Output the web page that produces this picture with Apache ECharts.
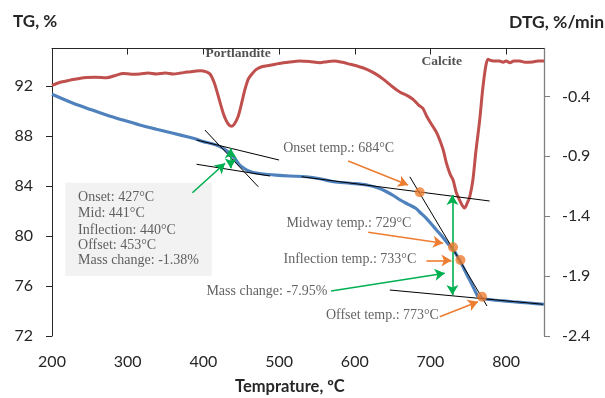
<!DOCTYPE html>
<html>
<head>
<meta charset="utf-8">
<script src="https://cdn.jsdelivr.net/npm/echarts@6.0.0/dist/echarts.min.js"></script>
<style>html,body{margin:0;padding:0;background:#fff}#c{width:605px;height:398px}</style>
</head>
<body>
<div id="c"></div>
<script>
// ---- data ----
const xTicks = [200, 300, 400, 500, 600, 700, 800];
const tgTicks = [72, 76, 80, 84, 88, 92];
const dtgTicks = [-2.4, -1.9, -1.4, -0.9, -0.4];

const tgTemp = [200,228,252,272,294,316,338,360,380,391,400,409,418,426,432,438,443,448,454,459,466,479,496,514,536,554,572,594,616,633,642,652,660,670,681,686,694,702,708,715,721,727,732,738,743,749,754,759,763,768,774,790,809,830,850];
const tgValues = [91.34,90.62,90.1,89.68,89.27,88.88,88.54,88.22,87.92,87.74,87.55,87.42,87.26,87.02,86.75,86.45,86.08,85.68,85.4,85.22,85.08,84.96,84.87,84.8,84.74,84.58,84.34,84.22,84.08,83.8,83.54,83.2,82.88,82.55,82.2,81.9,81.45,80.9,80.48,80.0,79.54,79.1,78.74,78.1,77.54,76.8,76.22,75.6,75.14,75.0,74.94,74.84,74.74,74.64,74.54];

const dtgTemp = [200,212,224,242,258,272,284,294,305,316,327,338,350,360,370,378,388,396,404,409,414,418,422,426,430,434,437.5,441,446,450,455,459,462,470,478,488,500,514,527,540,554,563,572,584,594,605,616,627,638,648,660,670,677,684,690,695,703,708,712,717,721,726,730,734,738,742,745,748,752,756,760,765,769,773,776,780,786,791,796,800,805,810,818,825,835,842,850];
const dtgValues = [-0.308,-0.28,-0.264,-0.244,-0.24,-0.244,-0.225,-0.208,-0.215,-0.213,-0.205,-0.213,-0.205,-0.213,-0.205,-0.197,-0.19,-0.185,-0.195,-0.215,-0.28,-0.36,-0.45,-0.536,-0.6,-0.64,-0.648,-0.63,-0.565,-0.47,-0.34,-0.26,-0.23,-0.174,-0.15,-0.14,-0.125,-0.113,-0.104,-0.108,-0.118,-0.11,-0.104,-0.115,-0.132,-0.15,-0.174,-0.21,-0.258,-0.31,-0.365,-0.395,-0.425,-0.47,-0.5,-0.565,-0.649,-0.7,-0.76,-0.85,-0.955,-1.05,-1.1,-1.2,-1.26,-1.31,-1.331,-1.3,-1.234,-1.1,-0.86,-0.6,-0.34,-0.15,-0.09,-0.1,-0.105,-0.104,-0.115,-0.105,-0.118,-0.105,-0.104,-0.115,-0.112,-0.104,-0.104];

// tangent lines [T, TG]
const portUpper = [[391, 87.68], [500, 86.08]];
const portLower = [[391, 85.74], [488, 84.8]];
const portSteep = [[402, 88.48], [472.5, 83.94]];
const calcUpper = [[529.8, 84.74], [778.2, 82.8]];
const calcSteep = [[672.7, 84.74], [774.7, 74.4]];
const calcLower = [[646.3, 75.68], [848.5, 74.54]];

// characteristic points [T, TG]
const markerPoints = [[685.9, 83.5], [729.8, 79.1], [739.6, 78.08], [768.1, 75.14]];

// arrows [from, to]
const orangeArrows = [
  [[591.3, 86.0], [670.4, 84.08]],
  [[617.7, 80.3], [716.6, 79.42]],
  [[694.7, 78.05], [727.7, 78.05]],
  [[712.3, 73.54], [762.8, 74.74]]
];
const greenArrows = [
  [[385.5, 83.46], [428.6, 85.82]],
  [[568.7, 75.6], [718.9, 77.02]]
];
const greenDoubleArrows = [
  [[436.1, 87.02], [436.1, 85.42]],
  [[729, 83.28], [729, 75.28]]
];

// annotation box corners
const boxCorners = [[217.5, 84.26], [411, 76.8]];

// text labels: [T, TG, text]
const noteTexts = [
  [504.7, 87.02, 'Onset temp.: 684°C'],
  [509, 81.0, 'Midway temp.: 729°C'],
  [505.2, 78.1, 'Inflection temp.: 733°C'],
  [403.3, 75.6, 'Mass change: -7.95%'],
  [561.2, 73.62, 'Offset temp.: 773°C']
];
const boxTexts = [
  [233.8, 83.1, 'Onset: 427°C'],
  [233.8, 81.82, 'Mid: 441°C'],
  [233.8, 80.48, 'Inflection: 440°C'],
  [233.8, 79.28, 'Offset: 453°C'],
  [233.8, 78.02, 'Mass change: -1.38%']
];
const peakTexts = [
  [445.8, 94.56, 'Portlandite'],
  [714.9, 93.92, 'Calcite']
];

// ---- build chart ----
const zip = (a, b) => a.map((v, i) => [v, b[i]]);
const serif = 'Liberation Serif';
const sans = 'Lato';

function arrowLines(list, color, both) {
  return {
    silent: true,
    symbol: both ? ['arrow', 'arrow'] : ['none', 'arrow'],
    symbolSize: [9, 10],
    label: { show: false },
    lineStyle: { color: color, width: 1.6, type: 'solid' },
    emphasis: { disabled: true },
    data: list.map(p => [{ coord: p[0] }, { coord: p[1] }])
  };
}

function tangent(d) {
  return {
    type: 'line', data: d, xAxisIndex: 0, yAxisIndex: 0,
    symbol: 'none', silent: true, z: 4,
    lineStyle: { color: '#000', width: 1 }
  };
}

function textSeries(list, style, pos) {
  return {
    type: 'scatter', xAxisIndex: 0, yAxisIndex: 0, silent: true, z: 8,
    symbolSize: 1, itemStyle: { color: 'transparent' },
    data: list.map(t => ({ value: [t[0], t[1]], name: t[2] })),
    label: Object.assign({ show: true, position: pos, distance: 0, formatter: p => p.name }, style)
  };
}

const chart = echarts.init(document.getElementById('c'), null, { renderer: 'canvas' });
chart.setOption({
  animation: false,
  backgroundColor: '#fff',
  grid: { left: 52, right: 61, top: 48.5, bottom: 62, containLabel: false, outerBoundsMode: 'none' },
  xAxis: {
    type: 'value', min: 200, max: 850, interval: 100,
    axisLine: { lineStyle: { color: '#262626', width: 1 } },
    axisTick: { show: true, length: 6, customValues: xTicks, lineStyle: { color: '#262626' } },
    axisLabel: { customValues: xTicks, margin: 18, fontFamily: sans, fontSize: 16, color: '#262626' },
    splitLine: { show: false }
  },
  yAxis: [
    {
      type: 'value', min: 72, max: 95, interval: 4, position: 'left',
      axisLine: { show: true, lineStyle: { color: '#262626', width: 1 } },
      axisTick: { show: true, length: 6, customValues: tgTicks, lineStyle: { color: '#262626' } },
      axisLabel: { customValues: tgTicks, margin: 19, fontFamily: sans, fontSize: 16, color: '#262626' },
      splitLine: { show: false }
    },
    {
      type: 'value', min: -2.4, max: 0, interval: 0.5, position: 'right',
      axisLine: { show: true, lineStyle: { color: '#7f7f7f', width: 1.3 } },
      axisTick: { show: true, length: 6, customValues: dtgTicks, lineStyle: { color: '#7f7f7f' } },
      axisLabel: { customValues: dtgTicks, margin: 18, fontFamily: sans, fontSize: 16, color: '#262626',
        formatter: v => v.toFixed(1) },
      splitLine: { show: false }
    }
  ],
  graphic: [
    { type: 'text', left: 13, top: 13, style: { text: 'TG, %', font: 'bold 17px Lato', fill: '#262626' } },
    { type: 'text', right: 1, top: 13, style: { text: 'DTG, %/min', font: 'bold 17.5px Lato', fill: '#262626' } },
    { type: 'text', left: 235, top: 378, style: { text: 'Temprature, ºC', font: 'bold 16.5px Lato', fill: '#262626' } }
  ],
  series: [
    {
      name: 'box', type: 'line', data: [], xAxisIndex: 0, yAxisIndex: 0, z: 1, silent: true,
      markArea: {
        silent: true,
        itemStyle: { color: '#f2f2f2' },
        label: { show: false },
        data: [[{ coord: boxCorners[0] }, { coord: boxCorners[1] }]]
      }
    },
    {
      name: 'DTG', type: 'line', data: zip(dtgTemp, dtgValues), xAxisIndex: 0, yAxisIndex: 1,
      symbol: 'none', smooth: 0.3, z: 2,
      lineStyle: { color: '#C0504D', width: 3 }
    },
    {
      name: 'TG', type: 'line', data: zip(tgTemp, tgValues), xAxisIndex: 0, yAxisIndex: 0,
      symbol: 'none', smooth: 0.3, z: 3,
      lineStyle: { color: '#4F81BD', width: 3.2 }
    },
    tangent(portUpper), tangent(portLower), tangent(portSteep),
    tangent(calcUpper), tangent(calcSteep), tangent(calcLower),
    {
      name: 'arrowsOrange', type: 'line', data: [], xAxisIndex: 0, yAxisIndex: 0, z: 5,
      markLine: arrowLines(orangeArrows, '#ED7D31', false)
    },
    {
      name: 'arrowsGreen', type: 'line', data: [], xAxisIndex: 0, yAxisIndex: 0, z: 5,
      markLine: arrowLines(greenArrows, '#00B050', false)
    },
    {
      name: 'arrowsGreen2', type: 'line', data: [], xAxisIndex: 0, yAxisIndex: 0, z: 5,
      markLine: arrowLines(greenDoubleArrows, '#00B050', true)
    },
    {
      name: 'points', type: 'scatter', data: markerPoints, xAxisIndex: 0, yAxisIndex: 0, z: 6,
      symbolSize: 10, itemStyle: { color: '#ED7D31' }, silent: true
    },
    textSeries(noteTexts, { fontFamily: serif, fontSize: 14, color: '#3a3a3a' }, 'right'),
    textSeries(boxTexts, { fontFamily: serif, fontSize: 14, color: '#3a3a3a' }, 'right'),
    textSeries(peakTexts, { fontFamily: serif, fontSize: 13.5, fontWeight: 'bold', color: '#262626' }, 'inside')
  ]
});
</script>
</body>
</html>
